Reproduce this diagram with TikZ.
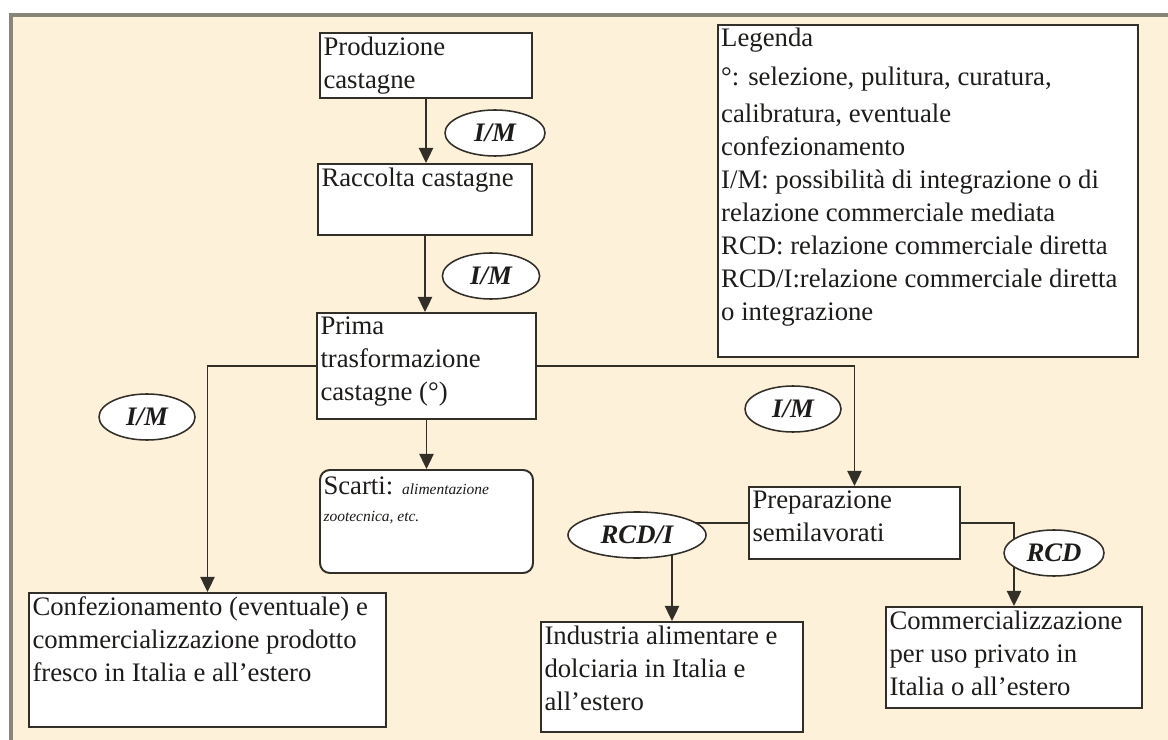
\documentclass[tikz,border=0pt]{standalone}
\usepackage{fontspec}
\setmainfont{Liberation Serif}
\usetikzlibrary{positioning, fit, shapes.geometric, arrows.meta}
\definecolor{framebeige}{RGB}{253,241,218}
\definecolor{framegrey}{RGB}{138,133,122}
\definecolor{boxline}{RGB}{50,46,40}
\definecolor{inkgrey}{RGB}{30,28,26}
\newcommand{\boxfont}{\fontsize{19}{23.5}\selectfont}
\newcommand{\tinyfont}{\fontsize{11}{19}\selectfont}
\tikzset{
  stepbox/.style={draw=boxline, fill=white, line width=1.4pt, inner sep=0pt},
  roundbox/.style={stepbox, rounded corners=7pt},
  boxtext/.style={anchor=north west, align=left, inner xsep=3pt, inner ysep=3pt,
    font=\boxfont, text=inkgrey},
  relation/.style={ellipse, draw=boxline, fill=white, line width=1.1pt, inner sep=0pt,
    minimum width=2.5cm, minimum height=1.15cm, font=\boxfont\bfseries\itshape, text=inkgrey},
  flow/.style={draw=boxline, line width=1.1pt, -{Triangle[length=0.38cm, width=0.36cm]}}
}

\begin{document}
\begin{tikzpicture}[x=0.025cm, y=-0.025cm]

\useasboundingbox (0,0) rectangle (1168,740);

% Background frame
\fill[framebeige] (11,15) rectangle (1168,740);
\draw[framegrey, line width=2.2pt] (11,740) -- (11,15) -- (1168,15);

% Boxes
\node[stepbox, fit={(320,33) (532,98)}] (prod) {};
\node[stepbox, fit={(318,164) (532,235)}] (racc) {};
\node[stepbox, fit={(317,313) (536,419)}] (prima) {};
\node[roundbox, fit={(320,470) (533,573)}] (scarti) {};
\node[stepbox, fit={(29,593) (386,727)}] (conf) {};
\node[stepbox, fit={(749,487) (960,559)}] (prep) {};
\node[stepbox, fit={(541,622) (803,732)}] (ind) {};
\node[stepbox, fit={(886,607) (1142,708)}] (comm) {};
\node[stepbox, line width=1.8pt, fit={(718,25) (1138,357)}] (legend) {};

% Box texts
\node[boxtext] (prod-t) at (prod.north west) {Produzione\\castagne};
\node[boxtext] (racc-t) at (racc.north west) {Raccolta castagne};
\node[boxtext] (prima-t) at (prima.north west) {Prima\\trasformazione\\castagne (°)};
\node[boxtext, inner ysep=5pt] (scarti-t) at (scarti.north west)
  {Scarti: {\tinyfont\itshape alimentazione}\\[-4pt]{\tinyfont\itshape zootecnica, etc.}};
\node[boxtext] (conf-t) at (conf.north west)
  {Confezionamento (eventuale) e\\commercializzazione prodotto\\fresco in Italia e all'estero};
\node[boxtext] (prep-t) at (prep.north west) {Preparazione\\semilavorati};
\node[boxtext] (ind-t) at (ind.north west) {Industria alimentare e\\dolciaria in Italia e\\all'estero};
\node[boxtext] (comm-t) at (comm.north west) {Commercializzazione\\per uso privato in\\Italia o all'estero};
\node[boxtext] (legend-t) at (legend.north west)
  {Legenda\\[4pt]
   °: selezione, pulitura, curatura,\\[3pt]
   calibratura, eventuale\\
   confezionamento\\
   I/M: possibilità di integrazione o di\\
   relazione commerciale mediata\\
   RCD: relazione commerciale diretta\\
   RCD/I:relazione commerciale diretta\\
   o integrazione};

% Connectors
\draw[flow] (prod.south) -- (prod.south |- racc.north);
\draw[flow] (racc.south) -- (racc.south |- prima.north);
\draw[flow] (prima.south) -- (scarti.north);
\draw[flow] (prima.west) -| (conf.north);
\draw[flow] (prima.east) -| (prep.north);
\draw[flow] (prep.west) -| (ind.north);
\draw[flow] (prep.east) -| (comm.north);

% Relation labels
\node[relation] (im-a) at (495,133) {I/M};
\node[relation, minimum width=2.43cm] (im-b) at (491,276) {I/M};
\node[relation, minimum width=2.4cm] (im-c) at (147,417) {I/M};
\node[relation, minimum width=2.4cm] (im-d) at (793,409) {I/M};
\node[relation, minimum width=3.45cm] (rcdi) at (637,535) {RCD/I};
\node[relation] (rcd) at (1054,553) {RCD};

\end{tikzpicture}
\end{document}
